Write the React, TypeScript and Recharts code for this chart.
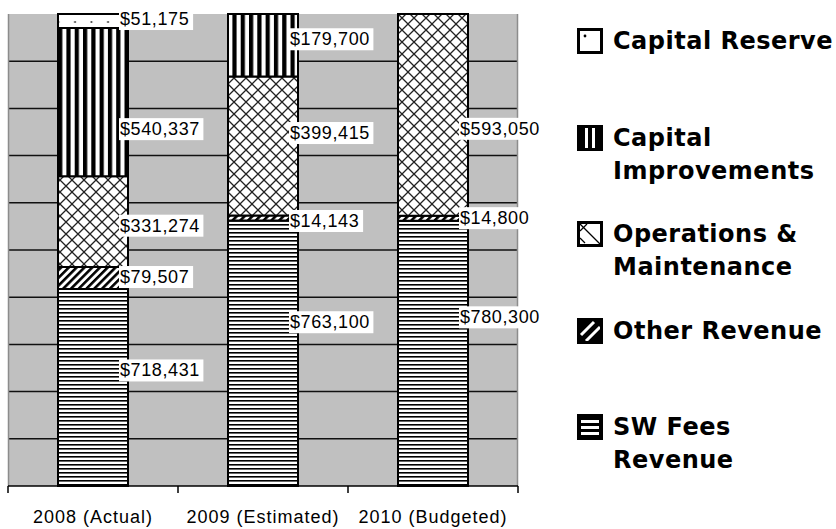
import React from 'react';
import { BarChart, Bar, XAxis, YAxis, CartesianGrid, LabelList } from 'recharts';

// Fiscal years shown on the x axis
const categories = ['2008 (Actual)', '2009 (Estimated)', '2010 (Budgeted)'];

// Dollar amounts per funding category (null = not present that year)
const swFeesRevenue = [718431, 763100, 780300];
const otherRevenue = [79507, 14143, 14800];
const operationsMaintenance = [331274, 399415, 593050];
const capitalImprovements: (number | null)[] = [540337, 179700, null];
const capitalReserve: (number | null)[] = [51175, null, null];

// Series in stacking order (bottom first)
const series = [
  { key: 'sw', name: 'SW Fees\nRevenue', values: swFeesRevenue, fill: 'url(#pSw)' },
  { key: 'other', name: 'Other Revenue', values: otherRevenue, fill: 'url(#pOther)' },
  { key: 'om', name: 'Operations &\nMaintenance', values: operationsMaintenance, fill: 'url(#pOm)' },
  { key: 'ci', name: 'Capital\nImprovements', values: capitalImprovements, fill: 'url(#pCi)' },
  { key: 'cr', name: 'Capital Reserve', values: capitalReserve, fill: 'url(#pCr)' },
];

const rows = categories.map((name, i) => {
  const row: Record<string, any> = { name };
  series.forEach((s) => {
    row[s.key] = s.values[i];
  });
  return row;
});

// Vertical nudge (px) of each value label from the middle of its segment
const labelNudge: Record<string, number[]> = {
  sw: [-17, -31, -36],
  other: [-1, 3, 0],
  om: [4, -13, 14],
  ci: [27, -6, 0],
  cr: [-2, 0, 0],
};

const LABEL_FONT = '"Liberation Sans", Arial, sans-serif';

const makeValueLabel = (key: string) => (props: any) => {
  const { value, index } = props;
  if (value === null || value === undefined || value === 0) return null;
  const vb = props.viewBox && props.viewBox.width !== undefined ? props.viewBox : props;
  const x = Number(vb.x);
  const y = Number(vb.y);
  const width = Number(vb.width);
  const height = Number(vb.height);
  const top = Math.min(y, y + height);
  const h = Math.abs(height);
  const cy = top + h / 2 + (labelNudge[key]?.[index] ?? 0);
  const text = '$' + Number(value).toLocaleString('en-US');
  const left = x + width - 9;
  const boxW = text.length * 10.3 + 2;
  return (
    <g>
      <rect x={left} y={cy - 11} width={boxW} height={22} fill="#ffffff" />
      <text
        x={left + 1}
        y={cy}
        dominantBaseline="central"
        fontFamily={LABEL_FONT}
        fontSize={18}
        letterSpacing={0.6}
        fill="#000"
      >
        {text}
      </text>
    </g>
  );
};

const AxisTick = (props: any) => {
  const { x, y, payload, index, visibleTicksCount } = props;
  const half = payload && typeof payload.offset === 'number' && payload.offset > 0 ? payload.offset : 85;
  const last = index === (visibleTicksCount ?? categories.length) - 1;
  return (
    <g>
      <line x1={x - half} x2={x - half} y1={y - 7} y2={y} stroke="#000" strokeWidth={1.5} />
      {last && <line x1={x + half} x2={x + half} y1={y - 7} y2={y} stroke="#000" strokeWidth={1.5} />}
      <text
        x={x}
        y={y + 24}
        textAnchor="middle"
        dominantBaseline="central"
        fontFamily={LABEL_FONT}
        fontSize={18}
        letterSpacing={1}
        fill="#000"
      >
        {payload.value}
      </text>
    </g>
  );
};

const LegendMarker = ({ k }: { k: string }) => {
  const s = 26;
  let inner: React.ReactNode = null;
  if (k === 'cr') {
    inner = <circle cx={8} cy={8} r={1.4} fill="#000" />;
  } else if (k === 'ci') {
    inner = (
      <g fill="#000">
        <rect x={2} y={2} width={6} height={22} />
        <rect x={11} y={2} width={4} height={22} />
        <rect x={18} y={2} width={6} height={22} />
      </g>
    );
  } else if (k === 'om') {
    inner = (
      <g stroke="#000" strokeWidth={1.3}>
        <line x1={3} y1={3} x2={23} y2={23} />
        <line x1={3} y1={10} x2={10} y2={3} />
        <line x1={3} y1={17} x2={8} y2={22} />
      </g>
    );
  } else if (k === 'other') {
    inner = (
      <g>
        <rect x={2} y={2} width={22} height={22} fill="#000" />
        <line x1={4} y1={17} x2={17} y2={4} stroke="#fff" strokeWidth={3} />
        <line x1={9} y1={23} x2={23} y2={9} stroke="#fff" strokeWidth={3} />
      </g>
    );
  } else if (k === 'sw') {
    inner = (
      <g>
        <rect x={2} y={2} width={22} height={22} fill="#000" />
        <rect x={4} y={6} width={18} height={3} fill="#fff" />
        <rect x={4} y={12} width={18} height={3} fill="#fff" />
        <rect x={4} y={18} width={18} height={3} fill="#fff" />
      </g>
    );
  }
  return (
    <svg width={s} height={s} style={{ display: 'block' }}>
      <rect x={1.5} y={1.5} width={s - 3} height={s - 3} fill="#fff" stroke="#000" strokeWidth={3} />
      {inner}
      <rect x={1.5} y={1.5} width={s - 3} height={s - 3} fill="none" stroke="#000" strokeWidth={3} />
    </svg>
  );
};

const legendOrder = [...series].reverse();

export default function App() {
  return (
    <div style={{ position: 'absolute', left: 0, top: 0, width: 836, height: 529, background: '#fff' }}>
      <BarChart
        width={836}
        height={529}
        data={rows}
        stackOffset="expand"
        margin={{ top: 14, right: 318, bottom: 0, left: 8 }}
        barSize={70}
      >
        <defs>
          <pattern id="pSw" width={4} height={4} patternUnits="userSpaceOnUse">
            <rect width={4} height={4} fill="#fff" />
            <rect y={0} width={4} height={1.6} fill="#000" />
          </pattern>
          <pattern id="pOther" width={5.5} height={5.5} patternUnits="userSpaceOnUse" patternTransform="rotate(45)">
            <rect width={5.5} height={5.5} fill="#fff" />
            <rect width={2.6} height={5.5} fill="#000" />
          </pattern>
          <pattern id="pOm" width={12} height={12} patternUnits="userSpaceOnUse">
            <rect width={12} height={12} fill="#fff" />
            <path d="M0 0 L12 12 M12 0 L0 12" stroke="#222" strokeWidth={1.3} />
          </pattern>
          <pattern id="pCi" width={8.3} height={8} patternUnits="userSpaceOnUse">
            <rect width={8.3} height={8} fill="#fff" />
            <rect width={4.2} height={8} fill="#000" />
          </pattern>
          <pattern id="pCr" width={16.5} height={14} patternUnits="userSpaceOnUse">
            <rect width={16.5} height={14} fill="#fff" />
            <circle cx={9} cy={8} r={1} fill="#333" />
          </pattern>
        </defs>
        <CartesianGrid
          fill="#c0c0c0"
          stroke="#111"
          strokeWidth={1.5}
          vertical={false}
          horizontalCoordinatesGenerator={({ offset }: any) =>
            [1, 2, 3, 4, 5, 6, 7, 8, 9].map((i) => offset.top + (offset.height * i) / 10)
          }
        />
        <CartesianGrid
          stroke="#8c8c8c"
          strokeWidth={1.5}
          horizontal={false}
          verticalCoordinatesGenerator={({ offset }: any) => [offset.left + 0.5, offset.left + offset.width - 0.5]}
        />
        <XAxis
          dataKey="name"
          height={43}
          axisLine={{ stroke: '#000', strokeWidth: 1.5 }}
          tickLine={false}
          tickSize={7}
          tickMargin={0}
          tick={<AxisTick />}
          interval={0}
        />
        <YAxis hide width={0} domain={[0, 1]} />
        {series.map((s) => (
          <Bar
            key={s.key}
            dataKey={s.key}
            name={s.name}
            stackId="funds"
            fill={s.fill}
            stroke="#000"
            strokeWidth={2}
            isAnimationActive={false}
          >
            <LabelList dataKey={s.key} content={makeValueLabel(s.key)} />
          </Bar>
        ))}
      </BarChart>
      <div
        style={{
          position: 'absolute',
          left: 577,
          top: 25,
          width: 259,
          fontFamily: '"DejaVu Sans", Verdana, sans-serif',
          fontWeight: 'bold',
          fontSize: 24,
          letterSpacing: 0.5,
          lineHeight: '33px',
          color: '#000',
        }}
      >
        {legendOrder.map((s) => (
          <div key={s.key} style={{ display: 'flex', alignItems: 'flex-start', height: 96.5 }}>
            <div style={{ marginTop: 3, width: 26, flex: 'none' }}>
              <LegendMarker k={s.key} />
            </div>
            <div style={{ marginLeft: 10, whiteSpace: 'pre' }}>{s.name}</div>
          </div>
        ))}
      </div>
    </div>
  );
}
